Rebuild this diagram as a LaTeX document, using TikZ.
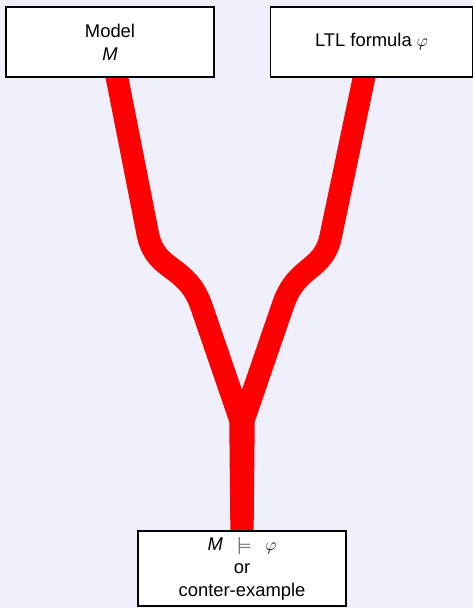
\documentclass[tikz,border=0pt]{standalone}
\usepackage{fontspec}
\setmainfont{Liberation Sans}
\usepackage{tikz}
\usetikzlibrary{positioning}
\pgfdeclarelayer{backdrop}
\pgfdeclarelayer{background}
\pgfsetlayers{backdrop,background,main}
\definecolor{slidebg}{RGB}{240,240,252}

\begin{document}
\begin{tikzpicture}[
      x=1pt, y=-1pt,
      node distance=55pt,
      font=\fontsize{18.4}{23}\selectfont,
      box/.style={
          rectangle,
          draw,
          line width=1.5pt,
          fill=white,
          align=center,
          minimum width=208pt,
          minimum height=70pt,
          inner sep=0pt
        },
      flow/.style={red, line width=22.5pt}
    ]
    \begin{pgfonlayer}{backdrop}
      \fill[slidebg] (0,0) rectangle (473,608);
    \end{pgfonlayer}
    \useasboundingbox (0,0) rectangle (473,608);

    \node[box] (model) at (110,42) {Model\\\textit{M}};
    \node[box, minimum width=202pt, right=of model] (formula) {LTL formula $\varphi$};
    \node[box, minimum height=75pt] (result) at (242,568.5) {\textit{M}\hspace{14pt}$\models$\hspace{14pt}$\varphi$\\or\\conter-example};

    % S-bends of the two legs
    \coordinate (lin) at (148,235);
    \coordinate (lc1) at (156,272);
    \coordinate (lc2) at (186,264);
    \coordinate (lout) at (201,305);
    \coordinate (lmerge) at (240.5,420);
    \coordinate (rin) at (331,235);
    \coordinate (rc1) at (324,272);
    \coordinate (rc2) at (297,264);
    \coordinate (rout) at (283,305);
    \coordinate (rmerge) at (243.5,420);

    \begin{pgfonlayer}{background}
      \draw[flow] (model.center) -- (lin) .. controls (lc1) and (lc2) .. (lout) -- (lmerge) -- (result.center);
      \draw[flow] (formula.center) -- (rin) .. controls (rc1) and (rc2) .. (rout) -- (rmerge) -- (result.center);
    \end{pgfonlayer}
  \end{tikzpicture}
\end{document}
